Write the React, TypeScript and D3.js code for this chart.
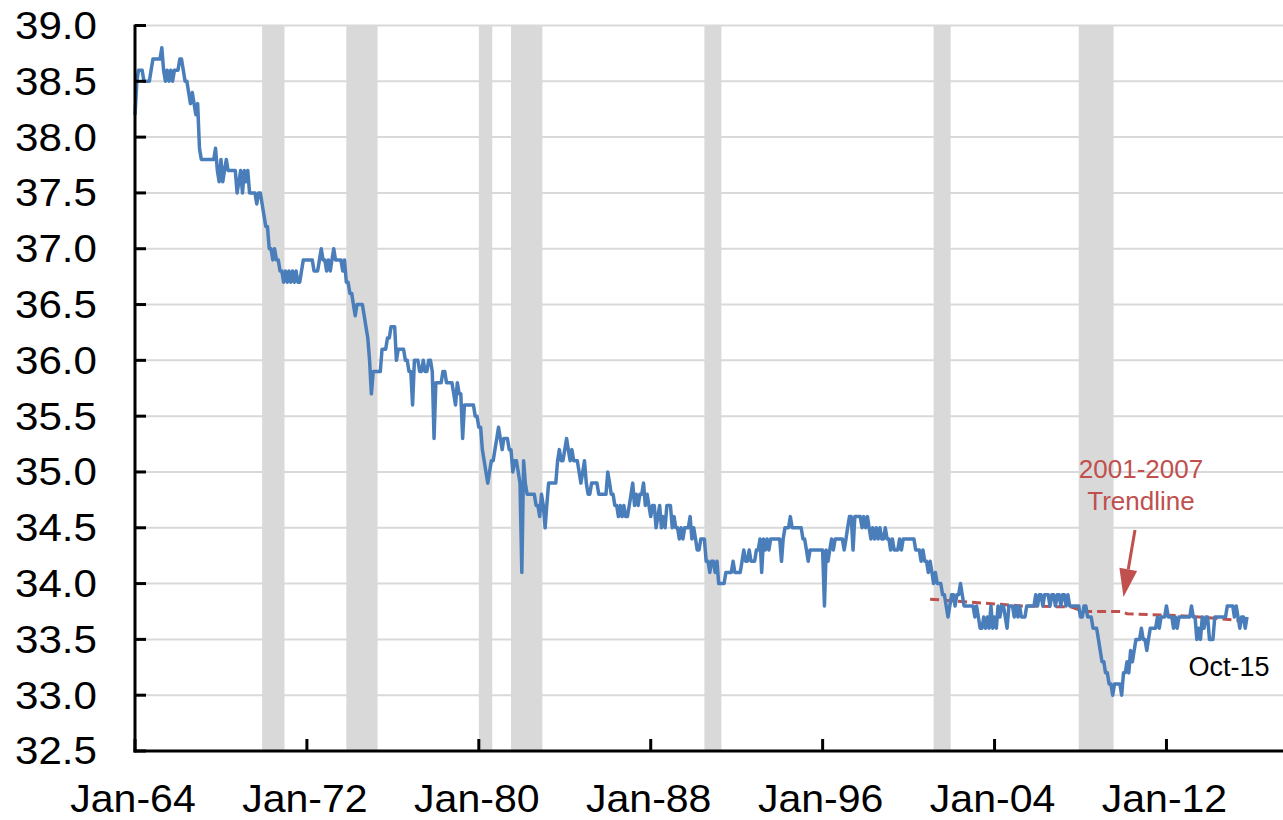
import * as d3 from "d3";

// Average weekly hours, monthly, Jan 1964 - Oct 2015 (one row per year)
const firstMonth = new Date(1964, 0, 1);
const hours = [
  38.2, 38.5, 38.6, 38.6, 38.6, 38.5, 38.5, 38.5, 38.5, 38.6, 38.7, 38.7, // 1964
  38.7, 38.7, 38.7, 38.8, 38.6, 38.5, 38.6, 38.5, 38.6, 38.5, 38.6, 38.6, // 1965
  38.6, 38.7, 38.7, 38.6, 38.5, 38.5, 38.4, 38.3, 38.4, 38.3, 38.2, 38.3, // 1966
  37.9, 37.8, 37.8, 37.8, 37.8, 37.8, 37.8, 37.8, 37.8, 37.9, 37.7, 37.6, // 1967
  37.8, 37.6, 37.7, 37.8, 37.7, 37.7, 37.7, 37.7, 37.7, 37.5, 37.6, 37.7, // 1968
  37.5, 37.7, 37.6, 37.7, 37.5, 37.5, 37.5, 37.5, 37.4, 37.5, 37.5, 37.4, // 1969
  37.3, 37.2, 37.2, 37.0, 37.0, 36.9, 37.0, 36.9, 36.9, 36.8, 36.8, 36.7, // 1970
  36.8, 36.7, 36.8, 36.7, 36.8, 36.7, 36.8, 36.7, 36.7, 36.8, 36.9, 36.9, // 1971
  36.9, 36.9, 36.9, 36.9, 36.8, 36.8, 36.8, 36.9, 37.0, 36.9, 36.9, 36.8, // 1972
  36.9, 36.8, 36.9, 37.0, 36.9, 36.9, 36.9, 36.9, 36.8, 36.9, 36.7, 36.7, // 1973
  36.6, 36.6, 36.5, 36.4, 36.5, 36.5, 36.5, 36.5, 36.4, 36.3, 36.2, 36.0, // 1974
  35.7, 35.9, 35.9, 35.9, 35.9, 35.9, 36.1, 36.1, 36.1, 36.2, 36.2, 36.3, // 1975
  36.3, 36.3, 36.0, 36.1, 36.1, 36.1, 36.1, 36.0, 36.0, 35.9, 35.9, 35.6, // 1976
  36.0, 36.0, 36.0, 35.9, 35.9, 36.0, 35.9, 35.9, 36.0, 36.0, 35.9, 35.3, // 1977
  35.8, 35.8, 35.8, 35.8, 35.9, 35.9, 35.8, 35.8, 35.8, 35.8, 35.7, 35.6, // 1978
  35.8, 35.7, 35.7, 35.3, 35.6, 35.6, 35.6, 35.6, 35.6, 35.6, 35.5, 35.5, // 1979
  35.4, 35.4, 35.2, 35.1, 35.0, 34.9, 35.0, 35.1, 35.1, 35.2, 35.3, 35.4, // 1980
  35.3, 35.2, 35.3, 35.3, 35.3, 35.2, 35.2, 35.0, 35.1, 35.1, 35.0, 34.9, // 1981
  34.1, 35.1, 34.9, 34.8, 34.8, 34.8, 34.8, 34.8, 34.7, 34.7, 34.6, 34.8, // 1982
  34.7, 34.5, 34.7, 34.9, 34.9, 34.9, 34.9, 34.9, 35.1, 35.2, 35.1, 35.1, // 1983
  35.2, 35.3, 35.2, 35.1, 35.2, 35.1, 35.1, 35.1, 35.0, 34.9, 35.0, 35.1, // 1984
  34.9, 34.8, 34.8, 34.9, 34.9, 34.9, 34.9, 34.8, 34.8, 34.8, 34.8, 34.8, // 1985
  35.0, 34.9, 34.8, 34.8, 34.7, 34.7, 34.6, 34.7, 34.6, 34.7, 34.6, 34.6, // 1986
  34.7, 34.8, 34.9, 34.7, 34.8, 34.7, 34.8, 34.8, 34.9, 34.7, 34.8, 34.7, // 1987
  34.6, 34.7, 34.7, 34.5, 34.6, 34.7, 34.5, 34.6, 34.5, 34.7, 34.7, 34.7, // 1988
  34.5, 34.6, 34.5, 34.5, 34.4, 34.5, 34.4, 34.5, 34.5, 34.5, 34.6, 34.4, // 1989
  34.5, 34.4, 34.3, 34.3, 34.4, 34.4, 34.4, 34.2, 34.2, 34.1, 34.2, 34.2, // 1990
  34.1, 34.2, 34.0, 34.0, 34.0, 34.0, 34.1, 34.1, 34.1, 34.1, 34.2, 34.1, // 1991
  34.1, 34.1, 34.1, 34.2, 34.3, 34.2, 34.2, 34.3, 34.2, 34.2, 34.2, 34.3, // 1992
  34.3, 34.4, 34.1, 34.4, 34.3, 34.4, 34.3, 34.4, 34.4, 34.4, 34.4, 34.4, // 1993
  34.4, 34.2, 34.4, 34.5, 34.5, 34.5, 34.6, 34.5, 34.5, 34.5, 34.5, 34.5, // 1994
  34.5, 34.4, 34.4, 34.3, 34.2, 34.3, 34.3, 34.3, 34.3, 34.3, 34.3, 34.3, // 1995
  34.3, 33.8, 34.3, 34.2, 34.3, 34.4, 34.3, 34.4, 34.4, 34.4, 34.4, 34.4, // 1996
  34.3, 34.4, 34.5, 34.6, 34.6, 34.3, 34.6, 34.6, 34.6, 34.6, 34.5, 34.6, // 1997
  34.5, 34.6, 34.5, 34.4, 34.5, 34.4, 34.5, 34.4, 34.5, 34.4, 34.4, 34.5, // 1998
  34.4, 34.4, 34.3, 34.4, 34.3, 34.3, 34.3, 34.4, 34.3, 34.4, 34.4, 34.4, // 1999
  34.4, 34.4, 34.4, 34.4, 34.3, 34.3, 34.3, 34.2, 34.3, 34.2, 34.2, 34.1, // 2000
  34.2, 34.1, 34.0, 34.1, 34.0, 34.0, 34.0, 33.9, 33.9, 33.8, 33.7, 33.8, // 2001
  33.9, 33.9, 33.8, 33.9, 33.9, 34.0, 33.9, 33.8, 33.8, 33.8, 33.8, 33.8, // 2002
  33.8, 33.7, 33.8, 33.7, 33.6, 33.6, 33.7, 33.6, 33.7, 33.6, 33.8, 33.6, // 2003
  33.7, 33.6, 33.8, 33.7, 33.8, 33.8, 33.7, 33.6, 33.8, 33.8, 33.8, 33.7, // 2004
  33.8, 33.7, 33.8, 33.7, 33.7, 33.7, 33.8, 33.8, 33.8, 33.8, 33.8, 33.9, // 2005
  33.8, 33.9, 33.9, 33.8, 33.9, 33.9, 33.9, 33.8, 33.9, 33.9, 33.8, 33.9, // 2006
  33.9, 33.8, 33.9, 33.9, 33.8, 33.9, 33.8, 33.8, 33.8, 33.8, 33.8, 33.8, // 2007
  33.7, 33.7, 33.8, 33.8, 33.7, 33.7, 33.7, 33.6, 33.6, 33.6, 33.5, 33.4, // 2008
  33.3, 33.3, 33.2, 33.2, 33.1, 33.1, 33.0, 33.1, 33.1, 33.1, 33.1, 33.0, // 2009
  33.2, 33.2, 33.3, 33.2, 33.4, 33.3, 33.4, 33.5, 33.5, 33.5, 33.6, 33.5, // 2010
  33.5, 33.4, 33.5, 33.6, 33.6, 33.6, 33.6, 33.7, 33.6, 33.7, 33.7, 33.7, // 2011
  33.8, 33.7, 33.7, 33.7, 33.6, 33.7, 33.6, 33.7, 33.7, 33.7, 33.7, 33.7, // 2012
  33.7, 33.7, 33.8, 33.7, 33.7, 33.5, 33.6, 33.5, 33.7, 33.6, 33.7, 33.7, // 2013
  33.5, 33.5, 33.5, 33.7, 33.7, 33.7, 33.7, 33.7, 33.7, 33.7, 33.8, 33.8, // 2014
  33.8, 33.8, 33.7, 33.8, 33.7, 33.6, 33.7, 33.7, 33.6, 33.7, // 2015 (to Oct)
];

// 2001-2007 trendline, read at a few months (months since Jan 1964)
const trendMonths = [444, 495, 523, 530, 551, 554, 586, 603, 622];
const trendValues = [33.86, 33.8, 33.79, 33.75, 33.75, 33.73, 33.71, 33.69, 33.66];

// NBER recessions [start, end] as "YYYY-MM"
const recessions: [string, string][] = [
  ["1969-12", "1970-11"],
  ["1973-11", "1975-03"],
  ["1980-01", "1980-07"],
  ["1981-07", "1982-11"],
  ["1990-07", "1991-03"],
  ["2001-03", "2001-11"],
  ["2007-12", "2009-06"],
];

const yTicks = [32.5, 33, 33.5, 34, 34.5, 35, 35.5, 36, 36.5, 37, 37.5, 38, 38.5, 39];
const xTickYears = [1964, 1972, 1980, 1988, 1996, 2004, 2012];

const W = 1283;
const H = 820;
const FONT = "'Liberation Sans', Arial, sans-serif";
const BLUE = "#4A7EBB";
const RED = "#C0504D";
const GREY = "#D9D9D9";

const monthDate = (m: number) => d3.timeMonth.offset(firstMonth, m);
const parseYM = d3.timeParse("%Y-%m");

export default function App() {
  const x = d3
    .scaleTime()
    .domain([new Date(1964, 0, 1), new Date(2017, 4, 1)])
    .range([135, 1281]);
  const y = d3.scaleLinear().domain([32.5, 39]).range([751, 25.5]);

  const line = d3
    .line<number>()
    .x((_, i) => x(monthDate(i)))
    .y((d) => y(d));

  const trendLine = d3
    .line<number>()
    .x((_, i) => x(monthDate(trendMonths[i])))
    .y((d) => y(d));

  const fmt = d3.timeFormat("%b-%y");
  const left = x.range()[0];
  const right = W;
  const bottom = y(32.5);
  const top = y(39);

  // arrow from the label down towards the trendline
  const arrowFrom = [1135, 530];
  const arrowTo = [x(monthDate(552)), y(33.88)];
  const ang = Math.atan2(arrowTo[1] - arrowFrom[1], arrowTo[0] - arrowFrom[0]);
  const headLen = 28;
  const headW = 9;
  const bx = arrowTo[0] - headLen * Math.cos(ang);
  const by = arrowTo[1] - headLen * Math.sin(ang);
  const px = -Math.sin(ang) * headW;
  const py = Math.cos(ang) * headW;

  // the original's lettering is a little wider than tall
  const stretch = 1.08;

  return (
    <svg
      width={W}
      height={H}
      style={{ position: "fixed", left: 0, top: 0, background: "#fff" }}
      fontFamily={FONT}
    >
      <rect width={W} height={H} fill="#fff" />

      {/* recession shading */}
      {recessions.map(([s, e]) => {
        const x0 = x(parseYM(s)!);
        const x1 = x(d3.timeDay.offset(d3.timeMonth.offset(parseYM(e)!, 1), 15));
        return <rect key={s} x={x0} y={top} width={x1 - x0} height={bottom - top} fill={GREY} />;
      })}

      {/* gridlines */}
      {yTicks.slice(1).map((t) => (
        <line key={t} x1={left} x2={right} y1={y(t)} y2={y(t)} stroke={GREY} strokeWidth={2} />
      ))}

      {/* trendline */}
      <path
        d={trendLine(trendValues)!}
        fill="none"
        stroke={RED}
        strokeWidth={3}
        strokeDasharray="9 5"
      />

      {/* series */}
      <path d={line(hours)!} fill="none" stroke={BLUE} strokeWidth={3.5} strokeLinejoin="round" />

      {/* axes */}
      <line x1={left} x2={left} y1={top - 1} y2={bottom + 1.5} stroke="#000" strokeWidth={3} />
      <line x1={left - 1.5} x2={right} y1={bottom} y2={bottom} stroke="#000" strokeWidth={3} />
      {yTicks.map((t) => (
        <g key={t}>
          <line x1={left} x2={left + 11} y1={y(t)} y2={y(t)} stroke="#000" strokeWidth={3} />
          <text
            transform={`translate(97,${y(t)}) scale(${stretch},1)`}
            textAnchor="end"
            dominantBaseline="central"
            fontSize={39}
            fill="#000"
          >
            {t.toFixed(1)}
          </text>
        </g>
      ))}
      {xTickYears.map((yr) => {
        const xx = x(new Date(yr, 0, 1));
        return (
          <g key={yr}>
            <line x1={xx} x2={xx} y1={bottom} y2={bottom - 12} stroke="#000" strokeWidth={3} />
            <text
              transform={`translate(${xx - 2},812) scale(${stretch},1)`}
              textAnchor="middle"
              fontSize={38}
              fill="#000"
            >
              {fmt(new Date(yr, 0, 1))}
            </text>
          </g>
        );
      })}

      {/* annotations */}
      <text x={1141} y={478} textAnchor="middle" fontSize={26} fill={RED}>
        2001-2007
      </text>
      <text x={1141} y={510} textAnchor="middle" fontSize={26} fill={RED}>
        Trendline
      </text>
      <line x1={arrowFrom[0]} y1={arrowFrom[1]} x2={bx} y2={by} stroke={RED} strokeWidth={3} />
      <polygon
        points={`${arrowTo[0]},${arrowTo[1]} ${bx + px},${by + py} ${bx - px},${by - py}`}
        fill={RED}
      />
      <text x={1229} y={676} textAnchor="middle" fontSize={27} fill="#000">
        {fmt(monthDate(hours.length - 1))}
      </text>
    </svg>
  );
}
